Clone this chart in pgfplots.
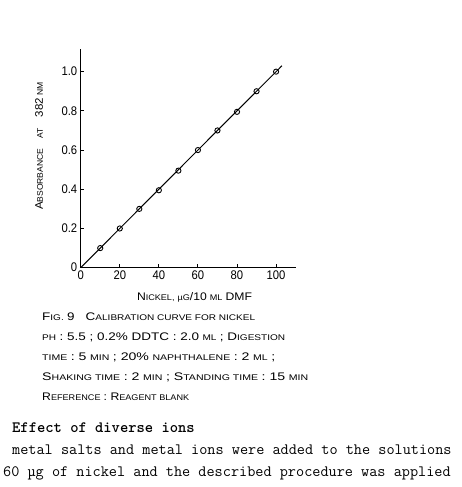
\documentclass[border=0pt]{standalone}
\usepackage{fontspec}
\usepackage{graphicx}
\usepackage{pgfplots}
\pgfplotsset{compat=1.18}
\setmainfont{Liberation Sans}
\newfontfamily\tickfont{Liberation Sans}[FakeStretch=0.9]
\newcommand{\BG}[1]{{\fontsize{11}{13}\selectfont #1}}
\newcommand{\SM}[1]{{\fontsize{8.2}{10}\selectfont #1}}
\begin{document}
\begin{tikzpicture}[x=1pt,y=1pt]
\path (0pt,0pt) rectangle (462pt,487pt);
\begin{axis}[
  at={(80.7pt,219.3pt)}, anchor=south west,
  scale only axis, width=215.3pt, height=218.4pt,
  xmin=0, xmax=110.2, ymin=0, ymax=1.114,
  axis lines=left, axis line style={-, line width=1.2pt},
  tick align=inside, major tick length=3.5pt,
  tick style={line width=1pt, black},
  xtick={0,20,40,60,80,100},
  ytick={0,0.2,0.4,0.6,0.8,1.0},
  yticklabels={0,0.2,0.4,0.6,0.8,1.0},
  /pgf/number format/assume math mode=true,
  tick label style={font=\tickfont\fontsize{12.5}{14}\selectfont},
  clip=false,
]
\addplot[black, line width=1pt, no marks] coordinates {(0,0) (103,1.03)};
\addplot[only marks, mark=o, mark size=2.6pt, mark options={line width=0.9pt, fill=white, black}] coordinates {
(10,0.100) (20,0.200) (30,0.300) (40,0.395) (50,0.495)
(60,0.600) (70,0.700) (80,0.795) (90,0.900) (100,1.000)};
\end{axis}
% axis titles
\node[rotate=90, inner sep=0pt] at (39pt,341pt) {\resizebox{128pt}{\height}{\BG{A}\SM{BSORBANCE}\quad\SM{AT}\quad\BG{382}\ \SM{NM}}};
\node[anchor=base, inner sep=0pt] at (194.5pt,186pt) {\resizebox{115pt}{\height}{\BG{N}\SM{ICKEL,} \SM{µG}\BG{/10} \SM{ML} \BG{DMF}}};
% caption
\node[anchor=base west, inner sep=0pt] at (42pt,166pt) {\resizebox{213pt}{\height}{\BG{F}\SM{IG.} \BG{9}\hspace{9pt}\BG{C}\SM{ALIBRATION CURVE FOR NICKEL}}};
\node[anchor=base west, inner sep=0pt] at (42pt,146pt) {\resizebox{243pt}{\height}{\SM{PH} \BG{: 5.5 ; 0.2\% DDTC : 2.0} \SM{ML} \BG{; D}\SM{IGESTION}}};
\node[anchor=base west, inner sep=0pt] at (42pt,126pt) {\resizebox{233pt}{\height}{\SM{TIME} \BG{: 5} \SM{MIN} \BG{; 20\%} \SM{NAPHTHALENE} \BG{: 2} \SM{ML} \BG{;}}};
\node[anchor=base west, inner sep=0pt] at (42pt,106pt) {\resizebox{266pt}{\height}{\BG{S}\SM{HAKING TIME} \BG{: 2} \SM{MIN} \BG{; S}\SM{TANDING TIME} \BG{: 15} \SM{MIN}}};
\node[anchor=base west, inner sep=0pt] at (42pt,86pt) {\resizebox{147pt}{\height}{\BG{R}\SM{EFERENCE} \BG{: R}\SM{EAGENT BLANK}}};
% body text
\node[anchor=base west, inner sep=0pt] at (12pt,54pt) {\ttfamily\bfseries\fontsize{15.8}{18}\selectfont Effect of diverse ions};
\node[anchor=base west, inner sep=0pt] at (12pt,32pt) {\ttfamily\fontsize{15.8}{18}\selectfont metal salts and metal ions were added to the solutions};
\node[anchor=base west, inner sep=0pt] at (3pt,10pt) {\ttfamily\fontsize{15.8}{18}\selectfont 60 µg of nickel and the described procedure was applied};
\end{tikzpicture}
\end{document}
